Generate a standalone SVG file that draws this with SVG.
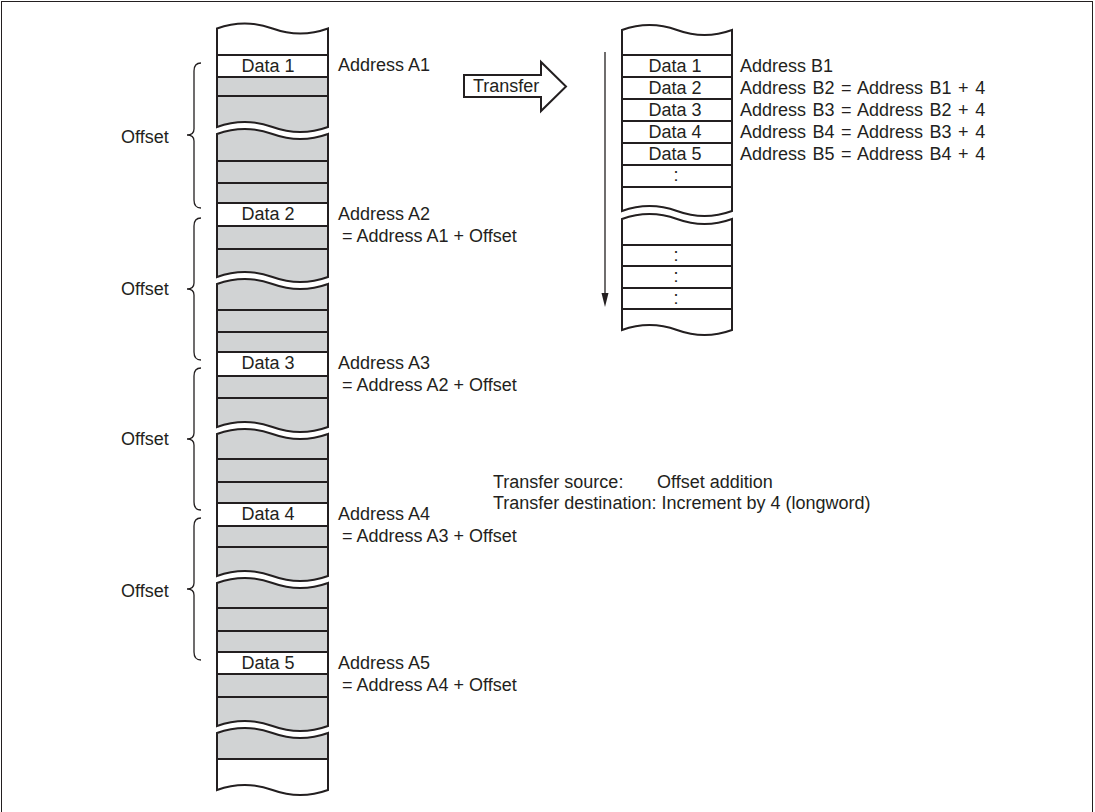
<svg xmlns="http://www.w3.org/2000/svg" width="1095" height="812" viewBox="0 0 1095 812">
<style>
.t{font-family:"Liberation Sans",Arial,sans-serif;font-size:18px;fill:#231f20}
.c{text-anchor:middle}
.ws{word-spacing:1.5px}
.piece{fill:#d1d3d4;stroke:none}
.ol{fill:none;stroke:#231f20;stroke-width:2}
.wh{fill:#ffffff;stroke:none}
.ln{stroke:#231f20;stroke-width:2}
.br{fill:none;stroke:#231f20;stroke-width:1.3}
</style>
<rect x="1.5" y="1.5" width="1091" height="820" fill="#ffffff" stroke="#231f20" stroke-width="1"/>

<g id="source-memory">
  <path class="piece" d="M217,28.5 Q244.75,18.5 272.5,28.5 T328,28.5 V127 Q300.25,137 272.5,127 T217,127 Z"/>
  <path class="wh" d="M217,28.5 Q244.75,18.5 272.5,28.5 T328,28.5 V77 H217 Z"/>
  <path class="ln" d="M217,55 H328 M217,77 H328 M217,96 H328"/>
  <path class="ol" d="M217,28.5 Q244.75,18.5 272.5,28.5 T328,28.5 V127 Q300.25,137 272.5,127 T217,127 Z"/>
  <path class="piece" d="M217,134 Q244.75,124 272.5,134 T328,134 V277 Q300.25,287 272.5,277 T217,277 Z"/>
  <rect class="wh" x="217" y="203" width="111" height="23"/>
  <path class="ln" d="M217,161 H328 M217,183 H328 M217,203 H328 M217,226 H328 M217,249 H328"/>
  <path class="ol" d="M217,134 Q244.75,124 272.5,134 T328,134 V277 Q300.25,287 272.5,277 T217,277 Z"/>
  <path class="piece" d="M217,284 Q244.75,274 272.5,284 T328,284 V427 Q300.25,437 272.5,427 T217,427 Z"/>
  <rect class="wh" x="217" y="352" width="111" height="24"/>
  <path class="ln" d="M217,310 H328 M217,332 H328 M217,352 H328 M217,376 H328 M217,398 H328"/>
  <path class="ol" d="M217,284 Q244.75,274 272.5,284 T328,284 V427 Q300.25,437 272.5,427 T217,427 Z"/>
  <path class="piece" d="M217,434 Q244.75,424 272.5,434 T328,434 V576 Q300.25,586 272.5,576 T217,576 Z"/>
  <rect class="wh" x="217" y="503" width="111" height="23"/>
  <path class="ln" d="M217,459 H328 M217,482 H328 M217,503 H328 M217,526 H328 M217,547 H328"/>
  <path class="ol" d="M217,434 Q244.75,424 272.5,434 T328,434 V576 Q300.25,586 272.5,576 T217,576 Z"/>
  <path class="piece" d="M217,583 Q244.75,573 272.5,583 T328,583 V726 Q300.25,736 272.5,726 T217,726 Z"/>
  <rect class="wh" x="217" y="652" width="111" height="22"/>
  <path class="ln" d="M217,608 H328 M217,631 H328 M217,652 H328 M217,674 H328 M217,697 H328"/>
  <path class="ol" d="M217,583 Q244.75,573 272.5,583 T328,583 V726 Q300.25,736 272.5,726 T217,726 Z"/>
  <path class="piece" d="M217,733 Q244.75,723 272.5,733 T328,733 V790 Q300.25,800 272.5,790 T217,790 Z"/>
  <path class="wh" d="M217,759 H328 V790 Q300.25,800 272.5,790 T217,790 Z"/>
  <path class="ln" d="M217,759 H328"/>
  <path class="ol" d="M217,733 Q244.75,723 272.5,733 T328,733 V790 Q300.25,800 272.5,790 T217,790 Z"/>
  <text class="t c" x="268" y="72">Data 1</text>
  <text class="t c" x="268" y="220">Data 2</text>
  <text class="t c" x="268" y="369">Data 3</text>
  <text class="t c" x="268" y="520">Data 4</text>
  <text class="t c" x="268" y="669">Data 5</text>
</g>

<g id="source-addresses">
  <text class="t" x="338" y="71">Address A1</text>
  <text class="t" x="338" y="220">Address A2</text>
  <text class="t" x="342" y="242">= Address A1 + Offset</text>
  <text class="t" x="338" y="369">Address A3</text>
  <text class="t" x="342" y="391">= Address A2 + Offset</text>
  <text class="t" x="338" y="520">Address A4</text>
  <text class="t" x="342" y="542">= Address A3 + Offset</text>
  <text class="t" x="338" y="669">Address A5</text>
  <text class="t" x="342" y="691">= Address A4 + Offset</text>
</g>

<g id="offset-braces">
  <path class="br" d="M201,63 Q194,63 194,71 V129 Q194,135 187,135 Q194,135 194,141 V200 Q194,208 201,208"/>
  <path class="br" d="M201,218 Q194,218 194,226 V283 Q194,289 187,289 Q194,289 194,295 V352 Q194,360 201,360"/>
  <path class="br" d="M201,368 Q194,368 194,376 V433 Q194,439 187,439 Q194,439 194,445 V502 Q194,510 201,510"/>
  <path class="br" d="M201,518 Q194,518 194,526 V583 Q194,589 187,589 Q194,589 194,595 V652 Q194,660 201,660"/>
  <text class="t" x="121" y="143">Offset</text>
  <text class="t" x="121" y="295">Offset</text>
  <text class="t" x="121" y="445">Offset</text>
  <text class="t" x="121" y="597">Offset</text>
</g>

<g id="transfer-arrow">
  <path d="M464,75 H541 V62 L566,86.5 L541,111 V97 H464 Z" fill="#ffffff" stroke="#231f20" stroke-width="2" stroke-linejoin="miter"/>
  <text class="t" x="473" y="92">Transfer</text>
</g>

<g id="destination-memory">
  <path class="ol" style="fill:#ffffff" d="M622,30 Q649.5,20 677,30 T732,30 V211 Q704.5,221 677,211 T622,211 Z"/>
  <path class="ln" d="M622,55 H732 M622,77 H732 M622,99 H732 M622,121 H732 M622,143 H732 M622,165 H732 M622,187 H732"/>
  <path class="ol" style="fill:#ffffff" d="M622,219 Q649.5,209 677,219 T732,219 V330 Q704.5,340 677,330 T622,330 Z"/>
  <path class="ln" d="M622,245 H732 M622,266 H732 M622,288 H732 M622,309 H732"/>
  <text class="t c" x="675" y="72">Data 1</text>
  <text class="t c" x="675" y="94">Data 2</text>
  <text class="t c" x="675" y="116">Data 3</text>
  <text class="t c" x="675" y="138">Data 4</text>
  <text class="t c" x="675" y="160">Data 5</text>
  <text class="t c" x="676" y="181">:</text>
  <text class="t c" x="676" y="261">:</text>
  <text class="t c" x="676" y="282">:</text>
  <text class="t c" x="676" y="304">:</text>
</g>

<g id="destination-addresses">
  <text class="t" x="740" y="72">Address B1</text>
  <text class="t ws" x="740" y="94">Address B2 = Address B1 + 4</text>
  <text class="t ws" x="740" y="116">Address B3 = Address B2 + 4</text>
  <text class="t ws" x="740" y="138">Address B4 = Address B3 + 4</text>
  <text class="t ws" x="740" y="160">Address B5 = Address B4 + 4</text>
</g>

<g id="connectors">
  <line x1="605" y1="52" x2="605" y2="295" stroke="#231f20" stroke-width="1.3"/>
  <polygon points="601.5,293 608.5,293 605,307" fill="#231f20"/>
</g>

<g id="legend">
  <text class="t" x="493" y="488">Transfer source:</text>
  <text class="t" x="657" y="488">Offset addition</text>
  <text class="t" x="493" y="509">Transfer destination: Increment by 4 (longword)</text>
</g>
</svg>
